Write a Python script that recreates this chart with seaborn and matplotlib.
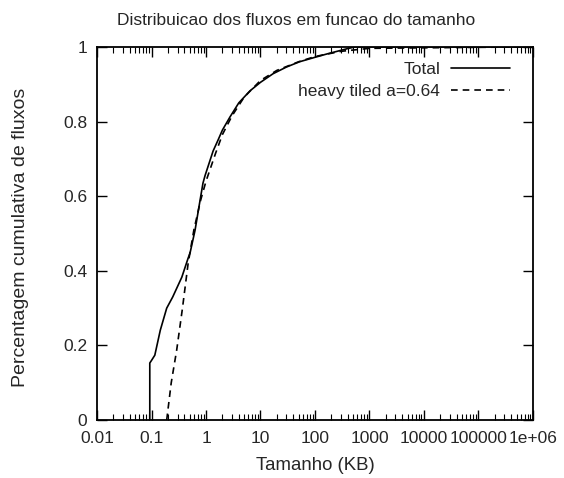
import numpy as np
import pandas as pd
import matplotlib
matplotlib.use("Agg")
import matplotlib.pyplot as plt
import seaborn as sns
from matplotlib.ticker import LogLocator, FuncFormatter, NullFormatter

# values (x in KB, y = cumulative fraction)
total_x = [0.093, 0.093, 0.10, 0.115, 0.145, 0.19, 0.245, 0.36, 0.47, 0.51,
           0.63, 0.78, 0.88, 0.96, 1.35, 1.66, 2.0, 2.75, 4.0, 6.4, 10, 17,
           30, 52, 100, 166, 390, 550, 1e6]
total_y = [0.0, 0.153, 0.16, 0.174, 0.241, 0.30, 0.33, 0.383, 0.434, 0.448,
           0.509, 0.59, 0.635, 0.655, 0.721, 0.75, 0.777, 0.812, 0.85, 0.882,
           0.905, 0.928, 0.946, 0.96, 0.972, 0.981, 0.995, 1.0, 1.0]

heavy_x = [0.19, 0.23, 0.29, 0.37, 0.47, 0.6, 0.8, 1.0, 1.5, 2, 3, 5, 10,
           20, 50, 100, 300, 1000, 1e6]
heavy_y = [0.0, 0.10, 0.188, 0.30, 0.42, 0.51, 0.59, 0.64, 0.715, 0.765,
           0.815, 0.865, 0.91, 0.937, 0.96, 0.974, 0.988, 0.996, 1.0]

x_ticks = [0.01, 0.1, 1, 10, 100, 1000, 10000, 100000, 1e6]
y_ticks = [0, 0.2, 0.4, 0.6, 0.8, 1.0]

df = pd.concat([
    pd.DataFrame({"x": total_x, "y": total_y, "serie": "Total"}),
    pd.DataFrame({"x": heavy_x, "y": heavy_y, "serie": "heavy tiled a=0.64"}),
])

sns.set_style("ticks")
plt.rcParams["font.family"] = ["Liberation Sans", "DejaVu Sans"]
fs = 12.5

fig = plt.figure(figsize=(5.64, 4.78), dpi=100)
ax = fig.add_axes([0.172, 0.121, 0.773, 0.781])

sns.lineplot(data=df, x="x", y="y", hue="serie", style="serie",
             palette=["black", "black"], dashes=[(None, None), (4, 3)],
             sort=False, estimator=None, linewidth=1.2, ax=ax)

ax.set_xscale("log")
ax.set_xlim(0.01, 1e6)
ax.set_ylim(0, 1)
ax.set_xticks(x_ticks)
ax.xaxis.set_major_formatter(FuncFormatter(lambda v, p: "%g" % v))
ax.xaxis.set_minor_locator(LogLocator(base=10, subs=np.arange(2, 10), numticks=20))
ax.xaxis.set_minor_formatter(NullFormatter())
ax.set_yticks(y_ticks)
ax.yaxis.set_major_formatter(FuncFormatter(lambda v, p: "%g" % v))

ax.tick_params(which="both", direction="in", top=True, right=True, color="black")
ax.tick_params(which="major", length=7, width=1, labelsize=fs)
ax.tick_params(axis="x", which="major", pad=8)
ax.tick_params(axis="y", which="major", pad=7)
ax.tick_params(which="minor", length=4, width=0.8)
for s in ax.spines.values():
    s.set_color("black")
    s.set_linewidth(1.3)

ax.set_title("Distribuicao dos fluxos em funcao do tamanho", fontsize=fs,
             pad=16, x=0.456)
ax.set_xlabel("Tamanho (KB)", fontsize=13.4, labelpad=8)
ax.set_ylabel("Percentagem cumulativa de fluxos", fontsize=14)
ax.yaxis.set_label_coords(-0.155, 0.49)

leg = ax.legend(loc="upper right", bbox_to_anchor=(0.982, 1.0), frameon=False,
                markerfirst=False, handlelength=3.4, fontsize=fs,
                borderaxespad=0.45, labelspacing=0.42, handletextpad=0.65)
for t in leg.get_texts():
    t.set_ha("right")
leg._legend_box.align = "right"

fig.savefig("out.png", dpi=100)
